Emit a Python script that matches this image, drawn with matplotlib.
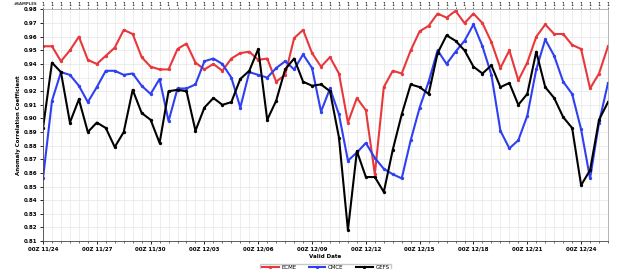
import numpy as np
import pandas as pd
import matplotlib
matplotlib.use("Agg")
import matplotlib.pyplot as plt

# valid dates every 12h starting 00Z 11/24
valid_dates = pd.date_range("2024-11-24 00:00", periods=64, freq="12h")

ecme = [0.953, 0.953, 0.942, 0.950, 0.960, 0.943, 0.940, 0.946, 0.952, 0.965,
        0.962, 0.945, 0.938, 0.936, 0.936, 0.951, 0.955, 0.941, 0.936, 0.940,
        0.935, 0.944, 0.948, 0.949, 0.943, 0.944, 0.927, 0.932, 0.959, 0.965,
        0.948, 0.938, 0.945, 0.933, 0.897, 0.915, 0.906, 0.859, 0.923, 0.935,
        0.933, 0.950, 0.964, 0.968, 0.977, 0.974, 0.979, 0.970, 0.977, 0.970,
        0.956, 0.937, 0.950, 0.928, 0.941, 0.960, 0.969, 0.962, 0.962, 0.954,
        0.951, 0.922, 0.933, 0.953]

cmce = [0.856, 0.913, 0.934, 0.932, 0.924, 0.912, 0.923, 0.935, 0.935, 0.932,
        0.933, 0.924, 0.918, 0.929, 0.898, 0.922, 0.922, 0.925, 0.942, 0.944,
        0.940, 0.930, 0.908, 0.934, 0.932, 0.930, 0.937, 0.942, 0.936, 0.947,
        0.937, 0.905, 0.922, 0.903, 0.869, 0.875, 0.882, 0.871, 0.863, 0.859,
        0.856, 0.884, 0.908, 0.927, 0.950, 0.940, 0.949, 0.957, 0.969, 0.953,
        0.932, 0.891, 0.878, 0.884, 0.902, 0.936, 0.958, 0.946, 0.927, 0.918,
        0.892, 0.856, 0.897, 0.926]

gefs = [0.893, 0.941, 0.934, 0.897, 0.914, 0.890, 0.897, 0.893, 0.879, 0.890,
        0.921, 0.904, 0.899, 0.882, 0.920, 0.921, 0.920, 0.891, 0.908, 0.915,
        0.910, 0.912, 0.929, 0.935, 0.951, 0.899, 0.913, 0.936, 0.944, 0.927,
        0.924, 0.925, 0.920, 0.886, 0.818, 0.876, 0.857, 0.857, 0.846, 0.877,
        0.903, 0.925, 0.923, 0.918, 0.948, 0.961, 0.957, 0.950, 0.938, 0.933,
        0.939, 0.923, 0.926, 0.910, 0.918, 0.949, 0.923, 0.915, 0.901, 0.893,
        0.851, 0.862, 0.899, 0.912]

samples = [1, 1, 1, 1, 1, 1, 1, 1, 1, 1, 1, 1, 1, 1, 1, 1,
           1, 1, 1, 1, 1, 1, 1, 1, 1, 1, 1, 1, 1, 1, 1, 1,
           1, 1, 1, 1, 1, 1, 1, 1, 1, 1, 1, 1, 1, 1, 1, 1,
           1, 1, 1, 1, 1, 1, 1, 1, 1, 1, 1, 1, 1, 1, 1, 1]

models = ["ECME", "CMCE", "GEFS"]
colors = ["#e8383b", "#2f3ff2", "#000000"]

fs = 4.0
fig = plt.figure(figsize=(6.4, 2.69), dpi=100)
ax = fig.add_axes([0.0672, 0.104, 0.8828, 0.8607])

for name, vals, c in zip(models, [ecme, cmce, gefs], colors):
    ax.plot(valid_dates, vals, color=c, linewidth=1.5, marker="o",
            markersize=2.4, markeredgewidth=0, label=name)

ax.set_xlim(valid_dates[0], valid_dates[-1])
ax.set_ylim(0.81, 0.98)
yt = np.round(np.arange(0.81, 0.9801, 0.01), 2)
ax.set_yticks(yt)
ax.set_yticklabels([f"{v:.2f}" for v in yt], fontsize=fs, fontweight="bold")

major = valid_dates[::6]
ax.set_xticks(major)
ax.set_xticklabels([d.strftime("00Z %m/%d") for d in major],
                   fontsize=fs, fontweight="bold")
ax.set_xticks(valid_dates, minor=True)
ax.tick_params(axis="both", which="major", length=2.5, width=0.6, pad=1.5)
ax.tick_params(axis="x", which="minor", length=1.2, width=0.4)

ax.grid(True, which="both", color="#e6e6e6", linewidth=0.5)
ax.set_axisbelow(True)
for side in ["top", "right"]:
    ax.spines[side].set_color("#aaaaaa")
for side in ["left", "bottom"]:
    ax.spines[side].set_color("#444444")
for sp in ax.spines.values():
    sp.set_linewidth(0.6)

ax.set_xlabel("Valid Date", fontsize=fs, fontweight="bold", labelpad=1.5)
ax.set_ylabel("Anomaly Correlation Coefficient", fontsize=fs,
              fontweight="bold", labelpad=2)

# number of samples along the top
top = ax.secondary_xaxis("top")
top.set_xticks(valid_dates, labels=[str(s) for s in samples])
top.tick_params(length=1.5, width=0.4, pad=0.5, labelsize=3.6)
top.spines["top"].set_visible(False)
fig.text(0.059, 0.984, "#SAMPLES", ha="right", va="center",
         fontsize=2.8, fontweight="bold", color="#333333")

fig.legend(loc="upper center", bbox_to_anchor=(0.509, 0.03), ncol=3,
           fontsize=fs, frameon=True, edgecolor="#bbbbbb", fancybox=False,
           handlelength=3, handletextpad=0.5, columnspacing=2.2,
           borderpad=0.3)

fig.savefig("out.png", dpi=100)
